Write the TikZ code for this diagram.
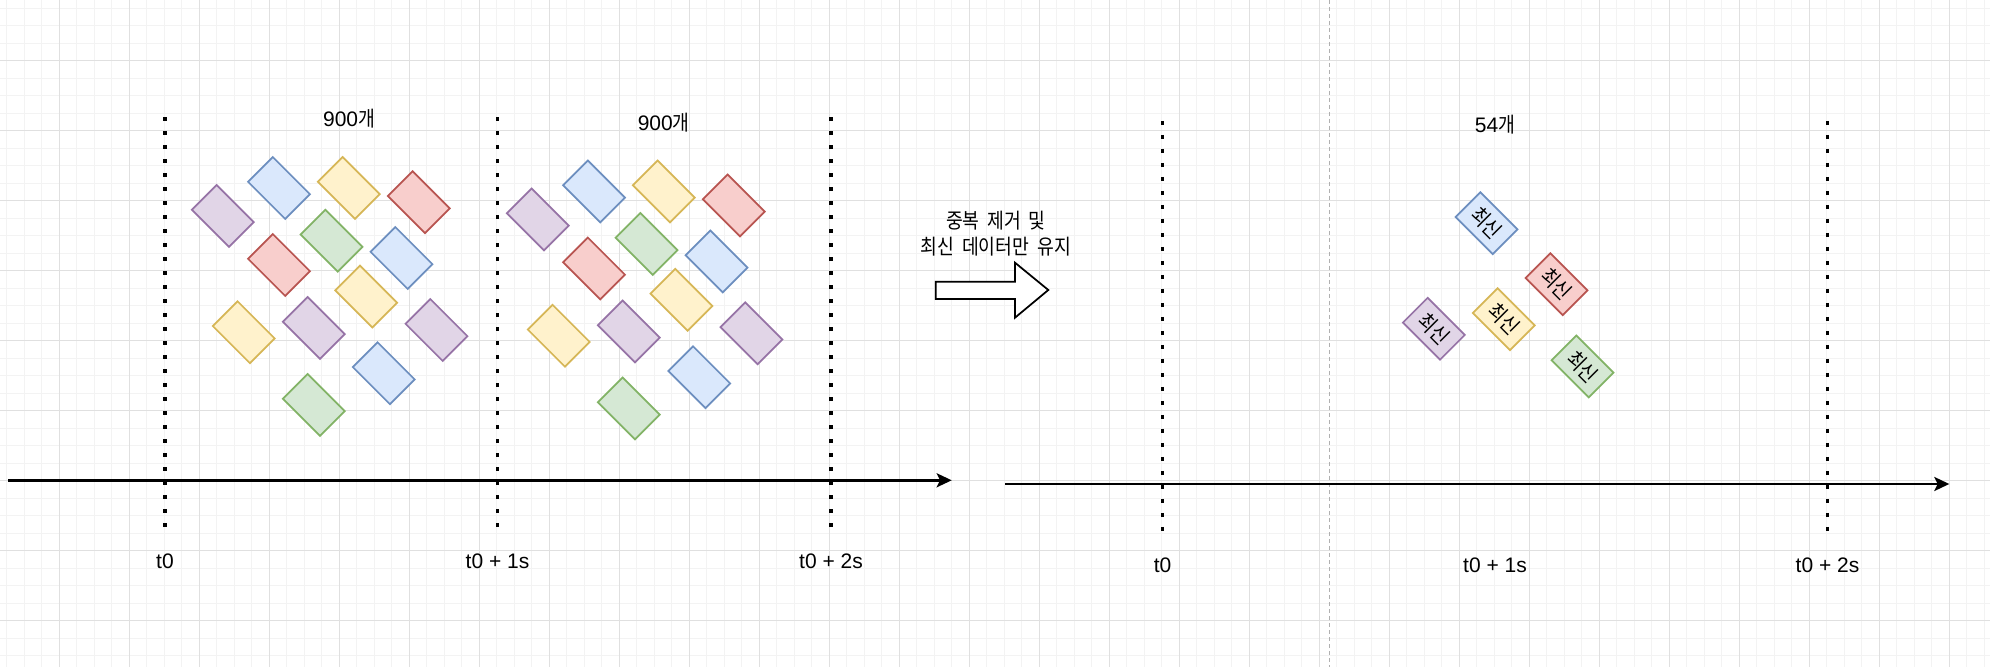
\documentclass[tikz,border=0pt]{standalone}
\usepackage{fontspec}
\setmainfont{Liberation Sans}
\newfontfamily\kr[FakeStretch=0.87,WordSpace=1.9]{Noto Sans CJK KR}
\usetikzlibrary{arrows.meta}
\definecolor{pF}{HTML}{E1D5E7}\definecolor{pS}{HTML}{9673A6}
\definecolor{bF}{HTML}{DAE8FC}\definecolor{bS}{HTML}{6C8EBF}
\definecolor{yF}{HTML}{FFF2CC}\definecolor{yS}{HTML}{D6B656}
\definecolor{rF}{HTML}{F8CECC}\definecolor{rS}{HTML}{B85450}
\definecolor{gF}{HTML}{D5E8D4}\definecolor{gS}{HTML}{82B366}
\definecolor{gridminor}{HTML}{F3F3F3}
\definecolor{gridmajor}{HTML}{E0E0E0}
\definecolor{pagebreak}{HTML}{B0B0B0}
\begin{document}
\begin{tikzpicture}[x=0.5pt,y=-0.5pt,
  every node/.style={font=\fontsize{10.5pt}{12.6pt}\selectfont},
  card/.style={draw, line width=0.875pt, rotate=-45, minimum width=26.25pt, minimum height=17.5pt, inner sep=0pt, outer sep=0pt},
  boxP/.style={card, fill=pF, draw=pS},
  boxB/.style={card, fill=bF, draw=bS},
  boxY/.style={card, fill=yF, draw=yS},
  boxR/.style={card, fill=rF, draw=rS},
  boxG/.style={card, fill=gF, draw=gS},
  lbl/.style={inner sep=0pt, outer sep=0pt},
  dotline/.style={line width=1.9pt, dash pattern=on 1.9pt off 5.1pt},
  axis/.style={line width=1.25pt, -{Stealth[length=7.5pt, width=7pt, inset=1.7pt]}},
  minorgrid/.style={draw=gridminor, line width=0.5pt},
  majorgrid/.style={draw=gridmajor, line width=0.6pt}
]
\useasboundingbox (0,0) rectangle (1990,667);
\fill[white] (0,0) rectangle (1990,667);
% grid
\foreach \i in {0,...,113} \draw[minorgrid] ({6.8+17.5*\i},0) -- ({6.8+17.5*\i},667);
\foreach \j in {0,...,38} \draw[minorgrid] (0,{8.2+17.5*\j}) -- (1990,{8.2+17.5*\j});
\foreach \i in {0,...,28} \draw[majorgrid] ({59.3+70*\i},0) -- ({59.3+70*\i},667);
\foreach \j in {0,...,9} \draw[majorgrid] (0,{60.7+70*\j}) -- (1990,{60.7+70*\j});
% page break line
\draw[pagebreak, line width=0.5pt, dash pattern=on 2pt off 1.5pt] (1329.3,0) -- (1329.3,667);

% dotted time markers
\foreach \x in {165,497.5,831} \draw[dotline] (\x,117.5) -- (\x,529);
\foreach \x in {1162.5,1827.5} \draw[dotline] (\x,121) -- (\x,532);

% axes
\coordinate (a1s) at (8,480.3);
\coordinate (a1e) at (951.7,480.3);
\coordinate (a2s) at (1005,484);
\coordinate (a2e) at (1949.3,484);
\draw[axis] (a1s) -- (a1e);
\draw[axis] (a2s) -- (a2e);

% left cards, window 1
\node[boxP] (l1) at (222.8,216) {};
\node[boxB] (l2) at (279,188) {};
\node[boxY] (l3) at (348.8,188) {};
\node[boxR] (l4) at (418.8,202.2) {};
\node[boxG] (l5) at (331.5,240.7) {};
\node[boxR] (l6) at (279,265) {};
\node[boxB] (l7) at (401.5,258) {};
\node[boxY] (l8) at (366.2,296.5) {};
\node[boxY] (l9) at (243.8,332.3) {};
\node[boxP] (l10) at (313.8,328) {};
\node[boxP] (l11) at (436.5,330) {};
\node[boxB] (l12) at (383.8,373.3) {};
\node[boxG] (l13) at (313.8,405) {};
% window 2
\node[boxP] (m1) at (537.8,219.5) {};
\node[boxB] (m2) at (594,191.5) {};
\node[boxY] (m3) at (663.8,191.5) {};
\node[boxR] (m4) at (733.8,205.5) {};
\node[boxG] (m5) at (646.5,244) {};
\node[boxR] (m6) at (594,268.5) {};
\node[boxB] (m7) at (716.5,261.5) {};
\node[boxY] (m8) at (681.5,299.8) {};
\node[boxY] (m9) at (558.8,335.8) {};
\node[boxP] (m10) at (628.8,331.5) {};
\node[boxP] (m11) at (751.5,333.3) {};
\node[boxB] (m12) at (699.2,377.2) {};
\node[boxG] (m13) at (628.8,408.5) {};
% right cards
\node[boxB] (n1) at (1486.5,223.2) {\kr 최신};
\node[boxR] (n2) at (1556.5,284.2) {\kr 최신};
\node[boxY] (n3) at (1503.8,319.2) {\kr 최신};
\node[boxP] (n4) at (1433.8,328.8) {\kr 최신};
\node[boxG] (n5) at (1582.5,366.5) {\kr 최신};

% counts
\node[lbl] (c1) at (349,118.3) {900{\kr 개}};
\node[lbl] (c2) at (663.7,122.3) {900{\kr 개}};
\node[lbl] (c3) at (1495,124.6) {54{\kr 개}};

% time labels
\node[lbl] (t1) at (165,561) {t0};
\node[lbl] (t2) at (497.5,561) {t0 + 1s};
\node[lbl] (t3) at (831,561) {t0 + 2s};
\node[lbl] (t4) at (1162.5,565.7) {t0};
\node[lbl] (t5) at (1495,565.7) {t0 + 1s};
\node[lbl] (t6) at (1827.5,565.7) {t0 + 2s};

% transform text and block arrow
\node[lbl] (k1) at (995.8,220.7) {\kr 중복 제거 및};
\node[lbl] (k2) at (995.8,246.7) {\kr 최신 데이터만 유지};
\draw[line width=0.875pt, fill=white, line join=miter]
  (935.7,281.7) -- (1015,281.7) -- (1015,262.7) -- (1048.3,290) -- (1015,317.7) -- (1015,299) -- (935.7,299) -- cycle;
\end{tikzpicture}
\end{document}
